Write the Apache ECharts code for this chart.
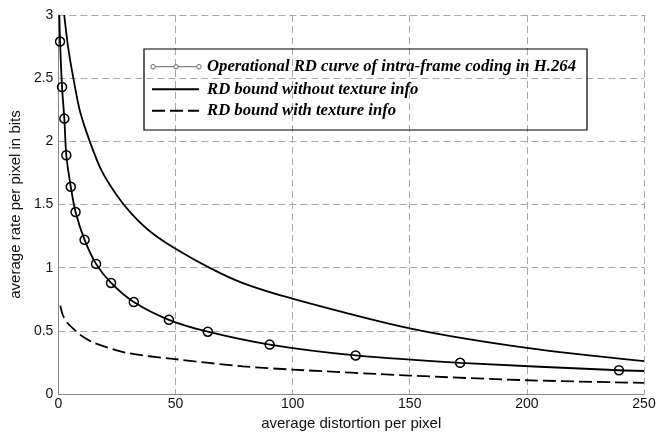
<!DOCTYPE html>
<html>
<head>
<meta charset="utf-8">
<script src="https://cdn.jsdelivr.net/npm/echarts@6/dist/echarts.min.js"></script>
<style>
  html, body { margin: 0; padding: 0; background: #fff; }
  #chart { width: 669px; height: 436px; }
</style>
</head>
<body>
<div id="chart"></div>
<script>
// Operational RD curve of intra-frame coding in H.264 (first and last points are curve ends, no marker)
const opDistortion = [0.42, 0.72, 1.57, 2.55, 3.39, 5.3, 7.34, 11.2, 16.1, 22.5, 32.2, 47.2, 63.8, 90.2, 126.9, 171.5, 239.3, 250];
const opRate       = [3.0, 2.79, 2.43, 2.18, 1.89, 1.64, 1.44, 1.22, 1.03, 0.879, 0.728, 0.587, 0.493, 0.391, 0.305, 0.247, 0.188, 0.182];

// RD bound without texture info
const boundDistortion = [2.5, 4.2, 6.4, 9.2, 13.4, 18.4, 24.7, 31.1, 39.6, 49.5, 64.4, 78.5, 99.7, 150, 200, 250];
const boundRate       = [3.0, 2.74, 2.50, 2.24, 2.0, 1.77, 1.58, 1.43, 1.28, 1.155, 1.0, 0.88, 0.756, 0.52, 0.365, 0.26];

// RD bound with texture info
const texDistortion = [0.85, 2.0, 4.0, 6.8, 10.0, 15.3, 29.4, 49.9, 78.8, 100, 150, 200, 250];
const texRate       = [0.70, 0.62, 0.56, 0.51, 0.46, 0.405, 0.325, 0.276, 0.219, 0.193, 0.146, 0.109, 0.088];

const xTicks = [0, 50, 100, 150, 200, 250];
const yTicks = [0, 0.5, 1, 1.5, 2, 2.5, 3];

const legendLabels = [
  'Operational RD curve of intra-frame coding in H.264',
  'RD bound without texture info',
  'RD bound with texture info'
];

const pairs = (xs, ys) => xs.map((x, i) => [x, ys[i]]);

const opData = opDistortion.map((x, i) => {
  const item = { value: [x, opRate[i]] };
  if (i === 0 || i === opDistortion.length - 1) item.symbol = 'none';
  return item;
});

const gridColor = '#a8a8a8';
const axisFont = { fontFamily: 'Liberation Sans, Arial, sans-serif', fontSize: 14, color: '#111' };
const legendFont = 'italic bold 16.7px "Liberation Serif", "Times New Roman", serif';

const chart = echarts.init(document.getElementById('chart'), null, { renderer: 'canvas' });

const legendX = 144, legendY = 49, legendW = 443, legendH = 81;
const rowY = [66.7, 89.3, 110.7];
const lineX0 = 153, lineX1 = 199, textX = 207;

chart.setOption({
  animation: false,
  backgroundColor: '#fff',
  grid: { left: 55, right: 25, top: 15, bottom: 38 },
  xAxis: [{
    type: 'value', min: 0, max: 250, interval: 50,
    name: 'average distortion per pixel',
    nameLocation: 'middle', nameGap: 22,
    nameTextStyle: { fontFamily: 'Liberation Sans, Arial, sans-serif', fontSize: 15, color: '#111' },
    axisLine: { show: true, lineStyle: { color: '#888', width: 1 } },
    axisTick: { show: false },
    axisLabel: Object.assign({ margin: 3, formatter: v => String(v) }, axisFont),
    splitLine: { show: true, lineStyle: { color: gridColor, type: [7, 4], width: 1 } }
  }, {
    type: 'value', min: 0, max: 250, position: 'top',
    axisLine: { show: true, lineStyle: { color: '#888', width: 1 } },
    axisTick: { show: false }, axisLabel: { show: false }, splitLine: { show: false }
  }],
  yAxis: [{
    type: 'value', min: 0, max: 3, interval: 0.5,
    name: 'average rate per pixel in bits',
    nameLocation: 'middle', nameGap: 30, nameRotate: 90,
    nameTextStyle: { fontFamily: 'Liberation Sans, Arial, sans-serif', fontSize: 15, color: '#111' },
    axisLine: { show: false },
    axisTick: { show: false },
    axisLabel: Object.assign({ margin: 5, formatter: v => String(v) }, axisFont),
    splitLine: { show: true, lineStyle: { color: gridColor, type: [7, 4], width: 1 } }
  }, {
    type: 'value', min: 0, max: 3, position: 'right',
    axisLine: { show: true, lineStyle: { color: '#888', width: 1 } },
    axisTick: { show: false }, axisLabel: { show: false }, splitLine: { show: false }
  }],
  series: [{
    name: legendLabels[0],
    type: 'line',
    data: opData,
    smooth: 0.3,
    symbol: 'circle',
    symbolSize: 9,
    showAllSymbol: true,
    lineStyle: { color: '#000', width: 1.8 },
    itemStyle: { color: 'rgba(0,0,0,0)', borderColor: '#000', borderWidth: 1.5 },
    z: 4
  }, {
    name: legendLabels[1],
    type: 'line',
    data: pairs(boundDistortion, boundRate),
    smooth: 0.3,
    showSymbol: false,
    lineStyle: { color: '#000', width: 1.8 },
    z: 3
  }, {
    name: legendLabels[2],
    type: 'line',
    data: pairs(texDistortion, texRate),
    smooth: 0.3,
    showSymbol: false,
    lineStyle: { color: '#000', width: 1.8, type: [13, 5] },
    z: 3
  }],
  graphic: [
    { type: 'rect', shape: { x: legendX, y: legendY, width: legendW, height: legendH },
      style: { fill: 'none', stroke: '#000', lineWidth: 1.2 }, z: 10 },
    // entry 1: line with small markers
    { type: 'line', shape: { x1: lineX0, y1: rowY[0], x2: lineX1, y2: rowY[0] },
      style: { stroke: '#666', lineWidth: 1 }, z: 10 },
    { type: 'circle', shape: { cx: lineX0, cy: rowY[0], r: 2.2 }, style: { fill: '#fff', stroke: '#666', lineWidth: 1 }, z: 11 },
    { type: 'circle', shape: { cx: (lineX0 + lineX1) / 2, cy: rowY[0], r: 2.2 }, style: { fill: '#fff', stroke: '#666', lineWidth: 1 }, z: 11 },
    { type: 'circle', shape: { cx: lineX1, cy: rowY[0], r: 2.2 }, style: { fill: '#fff', stroke: '#666', lineWidth: 1 }, z: 11 },
    // entry 2: solid
    { type: 'line', shape: { x1: lineX0 - 1, y1: rowY[1], x2: lineX1, y2: rowY[1] },
      style: { stroke: '#000', lineWidth: 2 }, z: 10 },
    // entry 3: dashed
    { type: 'line', shape: { x1: lineX0 - 1, y1: rowY[2], x2: lineX1, y2: rowY[2] },
      style: { stroke: '#000', lineWidth: 2, lineDash: [13, 5] }, z: 10 },
    { type: 'text', x: textX, y: rowY[0], style: { text: legendLabels[0], font: legendFont, fill: '#000', textVerticalAlign: 'middle' }, z: 10 },
    { type: 'text', x: textX, y: rowY[1], style: { text: legendLabels[1], font: legendFont, fill: '#000', textVerticalAlign: 'middle' }, z: 10 },
    { type: 'text', x: textX, y: rowY[2], style: { text: legendLabels[2], font: legendFont, fill: '#000', textVerticalAlign: 'middle' }, z: 10 }
  ]
});
</script>
</body>
</html>
